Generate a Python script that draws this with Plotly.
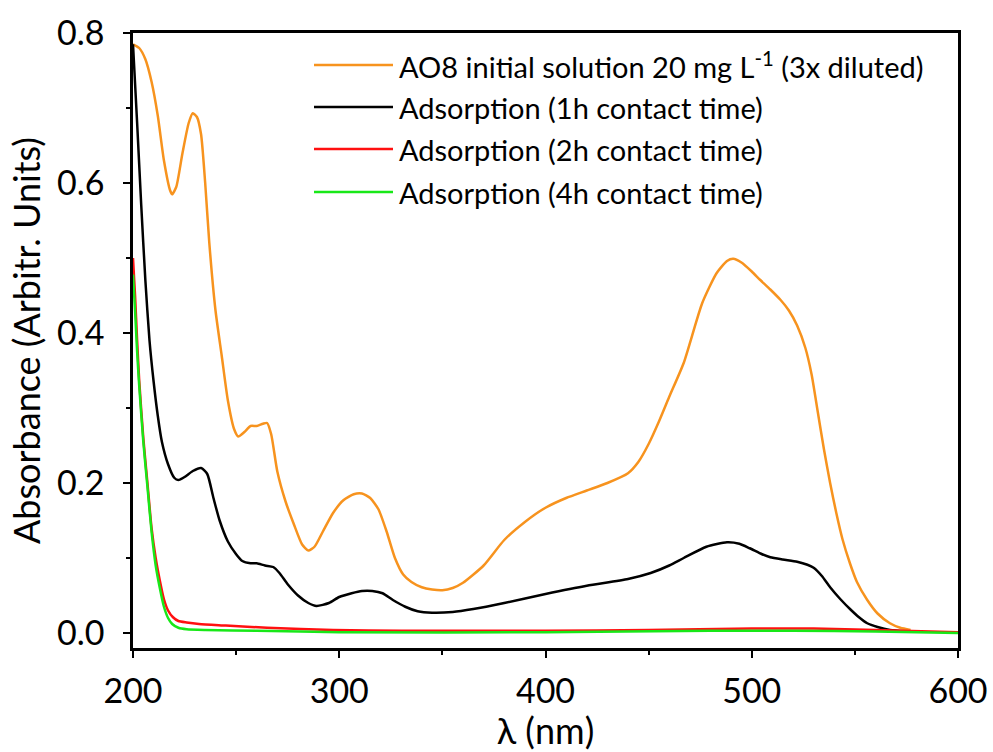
import plotly.graph_objects as go

# ---- data ----
wl_ao8 = [200, 203, 206, 209, 212, 215, 218, 219, 221, 224, 227, 229, 231, 233, 235, 237, 240, 243, 246, 249,
          251, 254, 257, 260, 263, 265, 267, 270, 274, 278, 282, 285, 288, 292, 297, 302, 307, 311, 315, 319,
          323, 327, 331, 335, 340, 345, 350, 355, 360, 370, 380, 390, 400, 410, 420, 430, 440, 445, 450, 455,
          460, 467, 476, 483, 488, 491, 495, 500, 504, 509, 514, 518, 522, 526, 529, 532, 535, 538, 541, 544,
          547.6, 551, 556, 561, 567, 572, 577]
abs_ao8 = [0.785, 0.78, 0.765, 0.735, 0.69, 0.63, 0.59, 0.585, 0.595, 0.64, 0.68, 0.693, 0.688, 0.665, 0.60,
           0.52, 0.43, 0.37, 0.31, 0.272, 0.262, 0.268, 0.276, 0.276, 0.279, 0.28, 0.265, 0.215, 0.175, 0.145,
           0.118, 0.11, 0.115, 0.135, 0.16, 0.177, 0.185, 0.186, 0.18, 0.165, 0.135, 0.10, 0.078, 0.068, 0.061,
           0.058, 0.057, 0.06, 0.067, 0.09, 0.124, 0.148, 0.167, 0.18, 0.19, 0.20, 0.213, 0.228, 0.252, 0.282,
           0.315, 0.36, 0.44, 0.48, 0.496, 0.499, 0.494, 0.482, 0.471, 0.458, 0.444, 0.43, 0.41, 0.38, 0.345,
           0.295, 0.245, 0.20, 0.16, 0.125, 0.093, 0.068, 0.044, 0.026, 0.013, 0.007, 0.004]

wl_1h = [200, 202, 204, 206, 208, 210, 212, 214, 217, 220, 222, 225, 229, 233, 236, 239, 242, 246, 250, 253,
         257, 260, 264, 268, 271, 275, 280, 285, 289, 295, 300, 306, 311, 316, 321, 326, 332, 338, 345, 355,
         365, 380, 400, 420, 440, 451, 460, 467, 478, 488, 494, 499, 505, 509, 515, 522, 527, 530, 534, 538,
         543, 548, 552, 556, 561, 567, 575]
abs_1h = [0.785, 0.68, 0.57, 0.47, 0.39, 0.335, 0.29, 0.255, 0.225, 0.207, 0.204, 0.208, 0.216, 0.22, 0.212,
          0.18, 0.15, 0.122, 0.105, 0.096, 0.093, 0.093, 0.09, 0.088, 0.08, 0.065, 0.05, 0.04, 0.036, 0.04,
          0.048, 0.053, 0.056, 0.056, 0.053, 0.044, 0.035, 0.029, 0.027, 0.028, 0.032, 0.04, 0.052, 0.063,
          0.072, 0.08, 0.09, 0.10, 0.115, 0.121, 0.119, 0.113, 0.105, 0.101, 0.098, 0.095, 0.091, 0.087,
          0.076, 0.061, 0.045, 0.031, 0.021, 0.013, 0.008, 0.004, 0.002]

wl_2h = [200, 201, 202, 203, 205, 207, 209, 211, 213, 215, 217, 219.4, 222, 226, 232, 245, 265, 297, 330,
         400, 450, 500, 530, 560, 600]
abs_2h = [0.50, 0.45, 0.39, 0.337, 0.26, 0.20, 0.14, 0.10, 0.07, 0.045, 0.03, 0.021, 0.016, 0.014, 0.012,
          0.010, 0.007, 0.004, 0.003, 0.003, 0.004, 0.006, 0.006, 0.004, 0.001]

wl_4h = [200, 201, 202, 203, 205, 207, 209, 211, 213, 215, 217, 219, 222, 226, 235, 260, 300, 400, 480,
         520, 560, 600]
abs_4h = [0.478, 0.43, 0.375, 0.33, 0.255, 0.195, 0.135, 0.09, 0.06, 0.035, 0.02, 0.012, 0.007, 0.005,
          0.004, 0.003, 0.001, 0.001, 0.003, 0.003, 0.002, 0.0]

names = ["AO8 initial solution 20 mg L<sup>-1</sup> (3x diluted)",
         "Adsorption (1h contact time)",
         "Adsorption (2h contact time)",
         "Adsorption (4h contact time)"]
colors = ["#F7931E", "#000000", "#FF1010", "#18E818"]

FONT = "Lato"
W, H = 993, 752
ML, MR, MT, MB = 133, 35, 33, 104
PW, PH = W - ML - MR, H - MT - MB

def px2paper_x(px):
    return (px - ML) / PW

def px2paper_y(py):
    return (H - MB - py) / PH

fig = go.Figure()
for xs, ys, nm, c in [(wl_ao8, abs_ao8, names[0], colors[0]),
                      (wl_1h, abs_1h, names[1], colors[1]),
                      (wl_2h, abs_2h, names[2], colors[2]),
                      (wl_4h, abs_4h, names[3], colors[3])]:
    fig.add_trace(go.Scatter(x=xs, y=ys, name=nm, mode="lines", showlegend=False,
                             line=dict(color=c, width=2.5, shape="spline", smoothing=0.6)))

# legend drawn as line samples + text (positions in paper space)
legend_rows_py = [65, 107, 149, 192]
for nm, c, py in zip(names, colors, legend_rows_py):
    fig.add_shape(type="line", xref="paper", yref="paper",
                  x0=px2paper_x(314), x1=px2paper_x(393),
                  y0=px2paper_y(py), y1=px2paper_y(py),
                  line=dict(color=c, width=2.5))
    fig.add_annotation(xref="paper", yref="paper", x=px2paper_x(397), y=px2paper_y(py),
                       xanchor="left", yanchor="middle", showarrow=False, text=nm,
                       font=dict(family=FONT, size=29, color="black"))

axis_common = dict(showline=True, linecolor="black", linewidth=2.5, mirror=True,
                   ticks="outside", ticklen=7, tickwidth=2, tickcolor="black",
                   showgrid=False, zeroline=False, automargin=False,
                   tickfont=dict(family=FONT, size=34, color="black"))

fig.update_layout(
    width=W, height=H,
    margin=dict(l=ML, r=MR, t=MT, b=MB),
    paper_bgcolor="white", plot_bgcolor="white",
    font=dict(family=FONT, color="black"),
    xaxis=dict(range=[200, 600], dtick=100, tick0=200,
               minor=dict(dtick=50, ticks="outside", ticklen=4, tickwidth=2, tickcolor="black"),
               title=dict(text="λ (nm)", font=dict(family=FONT, size=36), standoff=4),
               ticklabelstandoff=4,
               **axis_common),
    yaxis=dict(range=[-0.02, 0.8], dtick=0.2, tick0=0, tickformat=".1f",
               minor=dict(dtick=0.1, ticks="outside", ticklen=4, tickwidth=2, tickcolor="black"),
               title=dict(text="Absorbance (Arbitr. Units)", font=dict(family=FONT, size=36), standoff=6),
               ticklabelstandoff=12,
               **axis_common),
    showlegend=False,
)

fig.write_html("out.html")
